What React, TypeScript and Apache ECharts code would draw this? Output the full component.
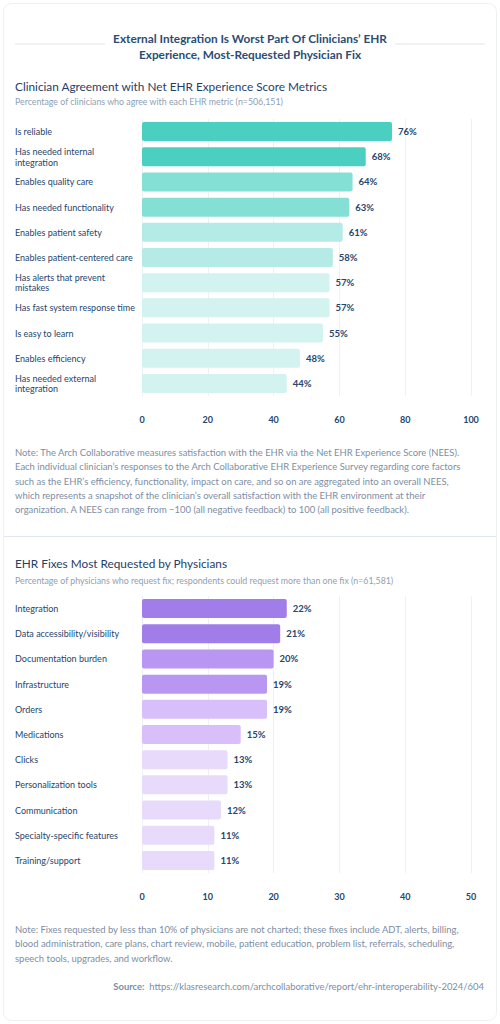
import React, { useEffect, useRef } from "react";
import * as echarts from "echarts";

const metricCategories = [
  "Is reliable",
  "Has needed internal\nintegration",
  "Enables quality care",
  "Has needed functionality",
  "Enables patient safety",
  "Enables patient-centered care",
  "Has alerts that prevent\nmistakes",
  "Has fast system response time",
  "Is easy to learn",
  "Enables efficiency",
  "Has needed external\nintegration",
];
const metricValues = [76, 68, 64, 63, 61, 58, 57, 57, 55, 48, 44];
const metricColors = [
  "#4acfc1", "#4acfc1", "#84dfd5", "#84dfd5", "#b5ebe6", "#b5ebe6",
  "#d3f3f0", "#d3f3f0", "#d3f3f0", "#d3f3f0", "#d3f3f0",
];
const metricTicks = { min: 0, max: 100, interval: 20 };

const fixCategories = [
  "Integration",
  "Data accessibility/visibility",
  "Documentation burden",
  "Infrastructure",
  "Orders",
  "Medications",
  "Clicks",
  "Personalization tools",
  "Communication",
  "Specialty-specific features",
  "Training/support",
];
const fixValues = [22, 21, 20, 19, 19, 15, 13, 13, 12, 11, 11];
const fixColors = [
  "#a07de9", "#a07de9", "#b996f2", "#b996f2", "#d8bff9", "#d8bff9",
  "#e8dafb", "#e8dafb", "#e8dafb", "#e8dafb", "#e8dafb",
];
const fixTicks = { min: 0, max: 50, interval: 10 };

const mainTitle =
  "External Integration Is Worst Part Of Clinicians’ EHR\nExperience, Most-Requested Physician Fix";
const title1 = "Clinician Agreement with Net EHR Experience Score Metrics";
const subtitle1 = "Percentage of clinicians who agree with each EHR metric (n=506,151)";
const note1 = [
  "Note: The Arch Collaborative measures satisfaction with the EHR via the Net EHR Experience Score (NEES).",
  "Each individual clinician’s responses to the Arch Collaborative EHR Experience Survey regarding core factors",
  "such as the EHR’s efficiency, functionality, impact on care, and so on are aggregated into an overall NEES,",
  "which represents a snapshot of the clinician’s overall satisfaction with the EHR environment at their",
  "organization. A NEES can range from −100 (all negative feedback) to 100 (all positive feedback).",
];
const title2 = "EHR Fixes Most Requested by Physicians";
const subtitle2 =
  "Percentage of physicians who request fix; respondents could request more than one fix (n=61,581)";
const note2 = [
  "Note: Fixes requested by less than 10% of physicians are not charted; these fixes include ADT, alerts, billing,",
  "blood administration, care plans, chart review, mobile, patient education, problem list, referrals, scheduling,",
  "speech tools, upgrades, and workflow.",
];
const sourceUrl = "https://klasresearch.com/archcollaborative/report/ehr-interoperability-2024/604";

const FONT = "Lato, 'Noto Sans', sans-serif";
const NAVY = "#25466d";
const GRAY = "#7d8ea3";

function App() {
  const ref = useRef<HTMLDivElement>(null);

  useEffect(() => {
    document.body.style.margin = "0";
    if (!ref.current) return;
    const chart = echarts.init(ref.current, null, { renderer: "svg" });

    const yAxisCommon = (cats: string[], idx: number) => ({
      type: "category" as const,
      gridIndex: idx,
      data: cats,
      inverse: true,
      axisLine: { show: false },
      axisTick: { show: false },
      axisLabel: {
        align: "left" as const,
        margin: 127,
        fontFamily: FONT,
        fontSize: 9,
        lineHeight: 10.5,
        color: NAVY,
      },
    });
    const xAxisCommon = (t: { min: number; max: number; interval: number }, idx: number) => ({
      type: "value" as const,
      gridIndex: idx,
      min: t.min,
      max: t.max,
      interval: t.interval,
      axisLine: { show: false },
      axisTick: { show: false },
      splitLine: { show: true, lineStyle: { color: "#eef1f4", width: 1 } },
      axisLabel: {
        margin: 19,
        fontFamily: FONT,
        fontSize: 9,
        fontWeight: "bold" as const,
        color: NAVY,
      },
    });
    const seriesCommon = (vals: number[], colors: string[], idx: number) => ({
      type: "bar" as const,
      xAxisIndex: idx,
      yAxisIndex: idx,
      barWidth: 19,
      data: vals.map((v, i) => ({
        value: v,
        itemStyle: { color: colors[i], borderRadius: 2 },
      })),
      label: {
        show: true,
        position: "right" as const,
        distance: 6,
        formatter: "{c}%",
        fontFamily: FONT,
        fontSize: 9.5,
        fontWeight: "bold" as const,
        color: NAVY,
      },
    });

    const text = (
      x: number,
      y: number,
      t: string,
      opts: Record<string, unknown> = {}
    ) => ({
      type: "text",
      x,
      y,
      silent: true,
      style: {
        text: t,
        fontFamily: FONT,
        fill: NAVY,
        fontSize: 10,
        textAlign: "left",
        textVerticalAlign: "middle",
        ...opts,
      },
    });

    chart.setOption({
      animation: false,
      backgroundColor: "#ffffff",
      grid: [
        { left: 142, right: 29, top: 119, height: 277 },
        { left: 142, right: 29, top: 596, height: 277 },
      ],
      xAxis: [xAxisCommon(metricTicks, 0), xAxisCommon(fixTicks, 1)],
      yAxis: [yAxisCommon(metricCategories, 0), yAxisCommon(fixCategories, 1)],
      series: [
        seriesCommon(metricValues, metricColors, 0),
        seriesCommon(fixValues, fixColors, 1),
      ],
      graphic: [
        {
          type: "rect",
          silent: true,
          shape: { x: 3.5, y: 3.5, width: 493, height: 1017, r: 8 },
          style: { fill: "none", stroke: "#eef1f4", lineWidth: 1 },
        },
        {
          type: "line",
          silent: true,
          shape: { x1: 15, y1: 44, x2: 105, y2: 44 },
          style: { stroke: "#dfe5ec", lineWidth: 1 },
        },
        {
          type: "line",
          silent: true,
          shape: { x1: 395, y1: 44, x2: 485, y2: 44 },
          style: { stroke: "#dfe5ec", lineWidth: 1 },
        },
        text(250, 30, mainTitle, {
          textAlign: "center",
          textVerticalAlign: "top",
          fontSize: 11.8,
          fontWeight: "bold",
          lineHeight: 16,
          fill: "#2a4d74",
        }),
        text(15, 86.5, title1, { fontSize: 11.8, fill: "#1f4068" }),
        text(15, 101, subtitle1, { fontSize: 8.8, fill: "#8fa0b4" }),
        text(15, 445.5, note1.join("\n"), {
          textVerticalAlign: "top",
          fontSize: 9.45,
          lineHeight: 14.3,
          fill: GRAY,
        }),
        {
          type: "line",
          silent: true,
          shape: { x1: 4, y1: 536.5, x2: 496, y2: 536.5 },
          style: { stroke: "#e2e7ee", lineWidth: 1 },
        },
        text(15, 563.5, title2, { fontSize: 11.8, fill: "#1f4068" }),
        text(15, 580.5, subtitle2, { fontSize: 8.8, fill: "#8fa0b4" }),
        text(15, 921.8, note2.join("\n"), {
          textVerticalAlign: "top",
          fontSize: 9.45,
          lineHeight: 14.5,
          fill: GRAY,
        }),
        text(484, 986.7, "{b|Source:}  " + sourceUrl, {
          textAlign: "right",
          fontSize: 9.45,
          fill: GRAY,
          rich: {
            b: { fontWeight: "bold", fontSize: 9.45, fill: GRAY, fontFamily: FONT },
          },
        }),
      ],
    });

    return () => chart.dispose();
  }, []);

  return <div ref={ref} style={{ width: 500, height: 1024 }} />;
}

export default App;
